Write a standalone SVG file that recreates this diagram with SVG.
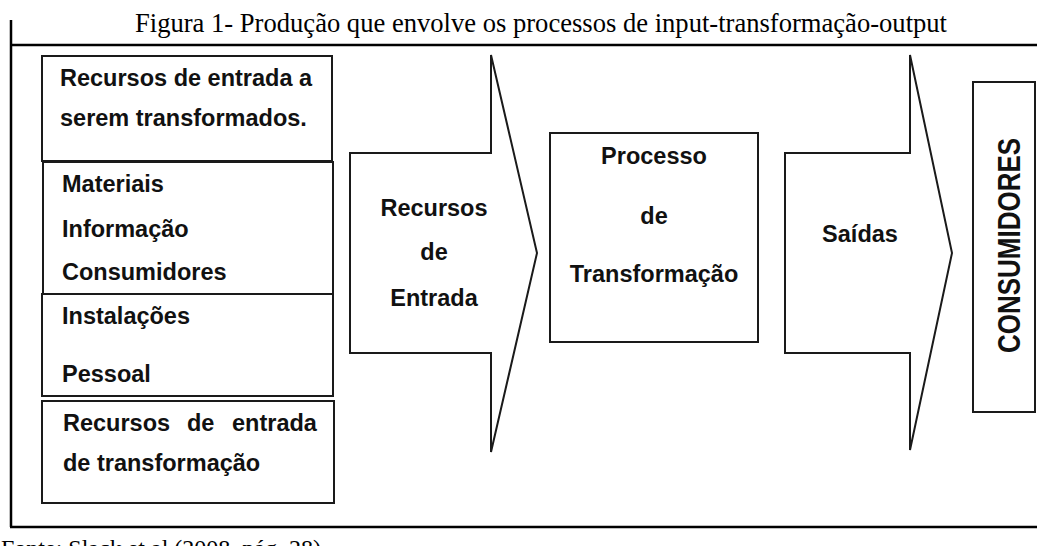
<svg xmlns="http://www.w3.org/2000/svg" width="1037" height="546" viewBox="0 0 1037 546">
<style>
.frame{stroke:#000;stroke-width:2.5;fill:none}
.box{fill:#fff;stroke:#1a1a1a;stroke-width:2}
.t{font-family:"Liberation Sans",Arial,sans-serif;font-weight:bold;font-size:23.5px;fill:#111}
.c{text-anchor:middle}
.serif{font-family:"Liberation Serif","Times New Roman",serif;font-size:26.5px;fill:#000}
</style>
<rect width="1037" height="546" fill="#fff"/>
<text class="serif" x="135" y="32" textLength="812" lengthAdjust="spacingAndGlyphs">Figura 1- Produção que envolve os processos de input-transformação-output</text>
<g id="frame">
<line class="frame" x1="11" y1="20" x2="11" y2="527"/>
<line class="frame" x1="10" y1="45" x2="1037" y2="45"/>
<line class="frame" x1="10" y1="527" x2="1037" y2="527"/>
</g>
<g id="connectors">
<polygon id="arrow-entrada" class="box" points="350,153 491,153 491,55 537,253 491,452 491,353 350,353"/>
<polygon id="arrow-saidas" class="box" points="785,153 910,153 910,55 952,253 910,450 910,353 785,353"/>
</g>
<g id="n-recursos-transformados">
<rect class="box" x="42" y="56" width="290" height="105"/>
<text class="t" x="60" y="86">Recursos de entrada a</text>
<text class="t" x="60" y="126">serem transformados.</text>
</g>
<g id="n-materiais">
<rect class="box" x="43" y="162" width="290" height="132"/>
<text class="t" x="62" y="192">Materiais</text>
<text class="t" x="62" y="237">Informação</text>
<text class="t" x="62" y="280">Consumidores</text>
</g>
<g id="n-instalacoes">
<rect class="box" x="42" y="294" width="291" height="102"/>
<text class="t" x="62" y="324">Instalações</text>
<text class="t" x="62" y="382">Pessoal</text>
</g>
<g id="n-recursos-transformacao">
<rect class="box" x="42" y="401" width="292" height="102"/>
<text class="t" y="431"><tspan x="63">Recursos</tspan><tspan x="187">de</tspan><tspan x="232">entrada</tspan></text>
<text class="t" x="63" y="471">de transformação</text>
</g>
<g id="n-recursos-entrada">
<text class="t c" x="434" y="216">Recursos</text>
<text class="t c" x="434" y="260">de</text>
<text class="t c" x="434" y="306">Entrada</text>
</g>
<g id="n-processo">
<rect class="box" x="550" y="133" width="208" height="209"/>
<text class="t c" x="654" y="164">Processo</text>
<text class="t c" x="654" y="224">de</text>
<text class="t c" x="654" y="282">Transformação</text>
</g>
<g id="n-saidas">
<text class="t c" x="860" y="242">Saídas</text>
</g>
<g id="n-consumidores">
<rect class="box" x="973" y="82" width="62" height="330"/>
<text class="t c" style="font-size:26px" transform="translate(1020,245.5) rotate(-90) scale(1,1.2)">CONSUMIDORES</text>
</g>
<text class="serif" x="1" y="556" style="font-size:24px">Fonte: Slack et al (2008, pág. 28)</text>
</svg>
